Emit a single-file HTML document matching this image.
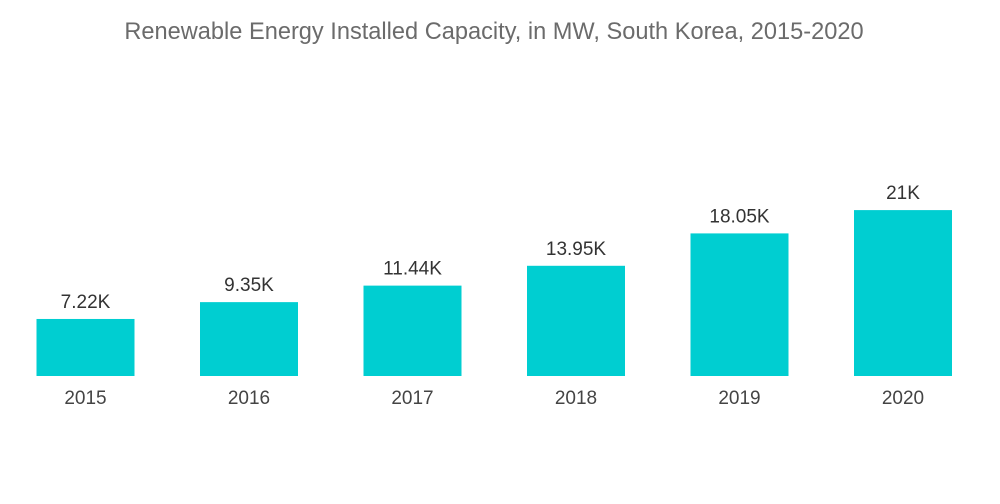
<!DOCTYPE html>
<html>
<head>
<meta charset="utf-8">
<style>
  body { margin:0; background:#fff; }
  svg { display:block; font-family:"Liberation Sans", sans-serif; }
</style>
</head>
<body>
<svg id="chart" width="1000" height="504" viewBox="0 0 1000 504">
  <text x="494" y="39" text-anchor="middle" font-size="23.6" fill="#6b6b6b">Renewable Energy Installed Capacity, in MW, South Korea, 2015-2020</text>
  <g id="bars"></g>
</svg>
<script>
const categories = ["2015","2016","2017","2018","2019","2020"];
const values = [7.22, 9.35, 11.44, 13.95, 18.05, 21];
const valueLabels = ["7.22K","9.35K","11.44K","13.95K","18.05K","21K"];

const baseline = 376, pxPerK = 7.9;
const firstCenter = 85.5, step = 163.5, barW = 98;
function xScale(i){ return firstCenter + i*step; }
function yScale(v){ return baseline - v*pxPerK; }

const ns = "http://www.w3.org/2000/svg";
const g = document.getElementById("bars");
categories.forEach((c,i)=>{
  const cx = xScale(i), y = yScale(values[i]);
  const r = document.createElementNS(ns,"rect");
  r.setAttribute("x", cx - barW/2);
  r.setAttribute("y", y);
  r.setAttribute("width", barW);
  r.setAttribute("height", baseline - y);
  r.setAttribute("fill", "#00ced1");
  
  
  g.appendChild(r);

  const t = document.createElementNS(ns,"text");
  t.setAttribute("x", cx);
  t.setAttribute("y", y - 11);
  t.setAttribute("text-anchor","middle");
  t.setAttribute("font-size","19");
  t.setAttribute("fill","#333");
  t.textContent = valueLabels[i];
  
  
  g.appendChild(t);

  const xl = document.createElementNS(ns,"text");
  xl.setAttribute("x", cx);
  xl.setAttribute("y", 404);
  xl.setAttribute("text-anchor","middle");
  xl.setAttribute("font-size","19");
  xl.setAttribute("fill","#444");
  xl.textContent = c;
  
  
  g.appendChild(xl);
});
</script>
</body>
</html>
